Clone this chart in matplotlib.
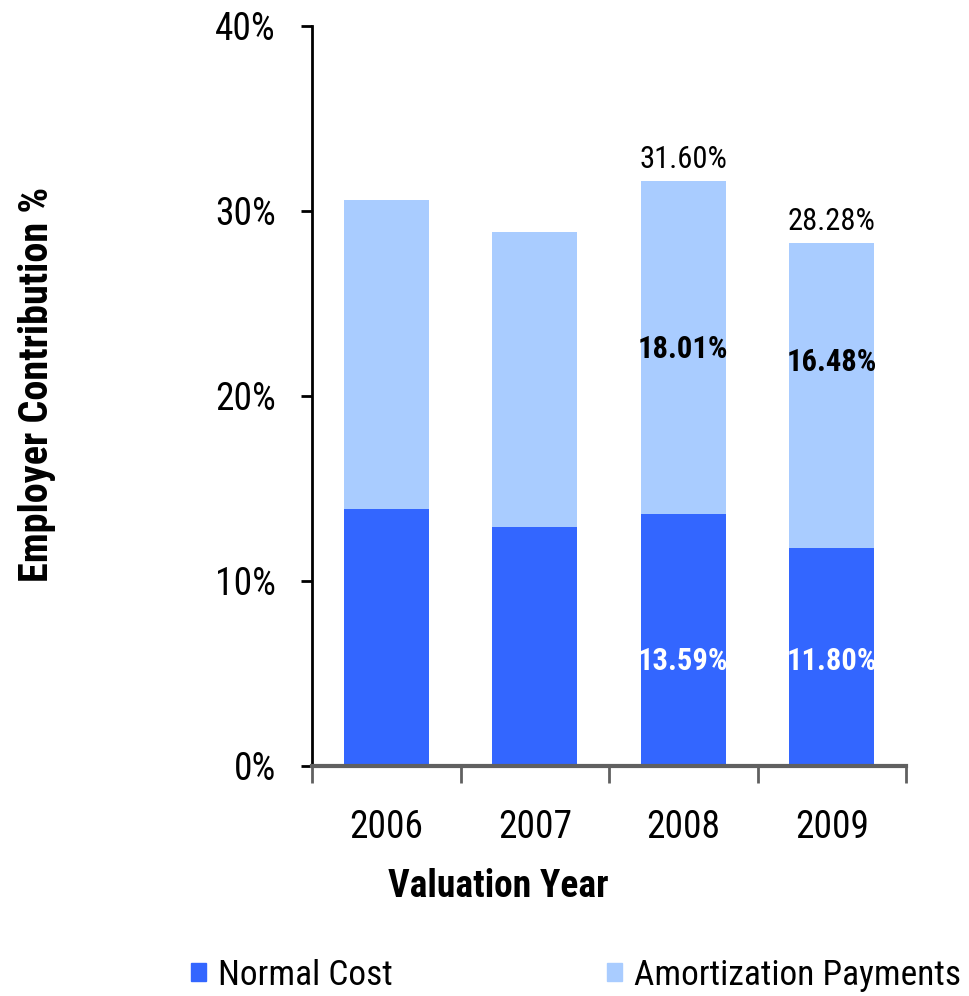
import matplotlib
matplotlib.use("Agg")
import matplotlib.pyplot as plt
from matplotlib import font_manager
from matplotlib.patches import Patch

years = ["2006", "2007", "2008", "2009"]
normal_cost = [13.9, 12.9, 13.59, 11.80]
amortization = [16.7, 15.96, 18.01, 16.48]
totals = [30.6, 28.86, 31.60, 28.28]
# only the last two years carry labels in the original
labelled = [False, False, True, True]

dark_blue = "#3366FF"
light_blue = "#A9CCFF"

# the original uses a narrow Arial-like face; use one if the box has it
fonts = font_manager.fontManager.ttflist
names = {f.name for f in fonts}
narrow = None
for cand in ['Liberation Sans Narrow', 'Arial Narrow', 'DejaVu Sans Condensed',
             'Noto Sans Condensed', 'Roboto Condensed', 'Open Sans Condensed']:
    if cand in names:
        narrow = cand
        break
stretch = 'normal'
if narrow is None:
    for f in fonts:
        if f.name in ('Noto Sans', 'Open Sans', 'Roboto', 'DejaVu Sans') and \
                str(f.stretch) in ('condensed', 'semi-condensed', 'extra-condensed'):
            narrow = f.name
            stretch = 'condensed'
            break

if narrow:
    plt.rcParams['font.family'] = [narrow, 'Liberation Sans', 'DejaVu Sans']
    plt.rcParams['font.stretch'] = stretch
    k = 1.0
else:
    plt.rcParams['font.family'] = ['Liberation Sans', 'DejaVu Sans']
    k = 0.86

fig = plt.figure(figsize=(9.69, 9.96), dpi=100)
ax = fig.add_axes([0.322, 0.231, 0.613, 0.743])

x = list(range(len(years)))
ax.bar(x, normal_cost, width=0.57, color=dark_blue, label="Normal Cost")
ax.bar(x, amortization, width=0.57, bottom=normal_cost, color=light_blue,
       label="Amortization Payments")

# label nudges (points) to sit where the original put them
white_shift = [0, 0, -15, -3]
black_shift = [0, 0, -1, 24]

for i in x:
    if not labelled[i]:
        continue
    ax.annotate(f"{normal_cost[i]:.2f}%", (i, normal_cost[i] / 2), xytext=(0, white_shift[i]),
                textcoords="offset points", ha="center", va="center",
                color="white", fontsize=22 * k, fontweight="bold")
    ax.annotate(f"{amortization[i]:.2f}%", (i, normal_cost[i] + amortization[i] / 2),
                xytext=(0, black_shift[i]), textcoords="offset points", ha="center",
                va="center", color="black", fontsize=22 * k, fontweight="bold")
    ax.annotate(f"{totals[i]:.2f}%", (i, totals[i]), xytext=(0, 5),
                textcoords="offset points", ha="center", va="bottom",
                color="black", fontsize=22 * k)

ax.set_xlim(-0.5, 3.5)
ax.set_ylim(0, 40)
ax.set_yticks([0, 10, 20, 30, 40])
ax.set_yticklabels(["0%", "10%", "20%", "30%", "40%"])
ax.set_xticks(x)
ax.set_xticklabels(years)
ax.set_xticks([-0.5, 0.5, 1.5, 2.5, 3.5], minor=True)

ax.spines["top"].set_visible(False)
ax.spines["right"].set_visible(False)
ax.spines["left"].set_linewidth(2)
ax.spines["left"].set_color("black")
ax.spines["bottom"].set_linewidth(3)
ax.spines["bottom"].set_color("#606060")

ax.tick_params(axis="y", direction="out", length=8, width=2, color="black",
               labelsize=27 * k, pad=18)
ax.tick_params(axis="x", which="major", length=0, labelsize=27 * k, pad=31)
ax.tick_params(axis="x", which="minor", direction="out", length=12, width=2,
               color="#606060")

ax.set_xlabel("Valuation Year", fontsize=27 * k, fontweight="bold", va="center")
ax.xaxis.set_label_coords(0.313, -0.1635)
ax.set_ylabel("Employer Contribution %", fontsize=29 * k, fontweight="bold", va="center")
ax.yaxis.set_label_coords(-0.463, 0.515)

handles = [Patch(color=dark_blue, label="Normal Cost"),
           Patch(color=light_blue, label="Amortization Payments")]
fig.legend(handles=handles, loc="center left", bbox_to_anchor=(0.197, 0.021), ncol=2,
           frameon=False, fontsize=25.5 * k, handlelength=0.42, handleheight=0.42,
           handletextpad=0.34, columnspacing=6.05, borderaxespad=0, borderpad=0)

fig.savefig("out.png", dpi=100)
